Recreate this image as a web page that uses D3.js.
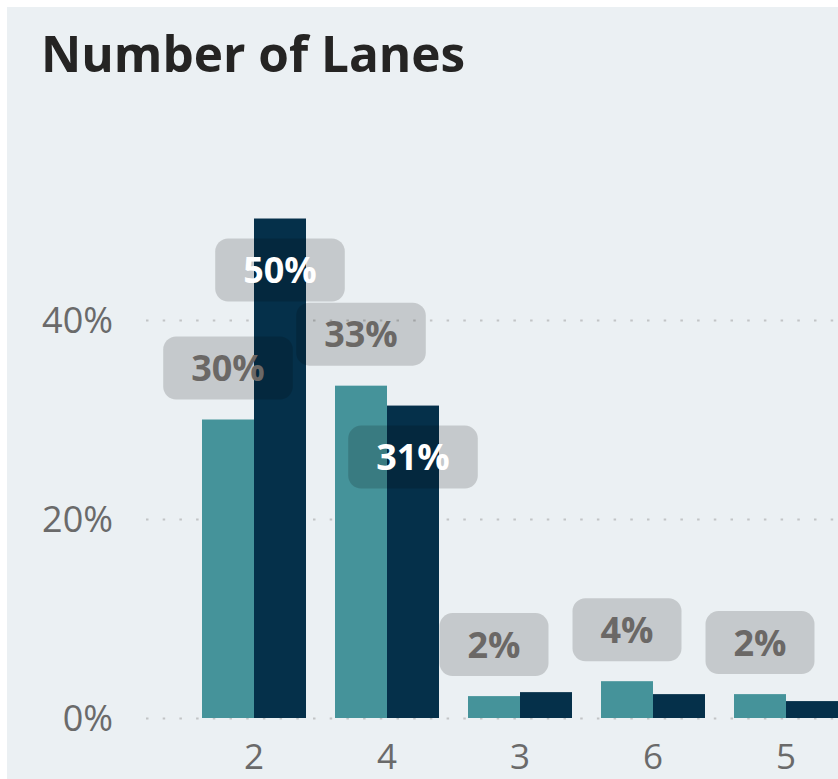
<!DOCTYPE html>
<html>
<head>
<meta charset="utf-8">
<script src="https://cdn.jsdelivr.net/npm/d3@7"></script>
<style>
  html, body { margin: 0; padding: 0; background: #ffffff; }
  svg { display: block; }
  text { font-family: "Open Sans", "Noto Sans", sans-serif; }
</style>
</head>
<body>
<svg id="chart" width="838" height="779"></svg>
<script>
// ---- data ----
const title = "Number of Lanes";
const categories = ["2", "4", "3", "6", "5"];
const seriesNames = ["Share A", "Share B"];
const seriesA = [0.30, 0.334, 0.022, 0.037, 0.024];
const seriesB = [0.502, 0.314, 0.026, 0.024, 0.017];
const yTicks = [0, 0.2, 0.4];
const seriesColors = ["#45939a", "#05304a"];

// ---- layout ----
const W = 838, H = 779;
const svg = d3.select("#chart");

svg.append("rect").attr("x", 7).attr("y", 7).attr("width", W - 7).attr("height", H - 7)
  .attr("fill", "#ebf0f3");

svg.append("text").attr("x", 41).attr("y", 72)
  .attr("font-size", 49.5).attr("font-weight", 700).attr("fill", "#252423")
  .text(title);

const y = d3.scaleLinear().domain([0, 0.4]).range([718, 320]);
const step = 133, padIn = 29 / 133;
const x = d3.scaleBand().domain(categories)
  .range([187.5, 187.5 + step * categories.length])
  .paddingInner(padIn).paddingOuter(padIn / 2);
const xs = d3.scaleBand().domain(seriesNames).range([0, x.bandwidth()]);

// gridlines + y labels
const yAxis = d3.axisLeft(y).tickValues(yTicks).tickFormat(d3.format(".0%"))
  .tickSize(-(W - 146)).tickPadding(33);
const gy = svg.append("g").attr("transform", "translate(146,0)").call(yAxis);
gy.select(".domain").remove();
gy.selectAll(".tick line").attr("stroke", "#c2c4c6").attr("stroke-width", 2.2)
  .attr("stroke-dasharray", "2.5,14.2");
gy.selectAll(".tick text").attr("font-size", 36).attr("fill", "#6a6a6a")
  .attr("font-family", "'Open Sans', sans-serif").attr("dy", "0.35em");

// x labels
const xAxis = d3.axisBottom(x).tickSize(0).tickPadding(0);
const gx = svg.append("g").attr("transform", "translate(0,769)").call(xAxis);
gx.select(".domain").remove();
gx.selectAll(".tick text").attr("font-size", 35).attr("fill", "#6a6a6a")
  .attr("font-family", "'Open Sans', sans-serif").attr("dy", 0).attr("y", 0);

// bars
const rows = categories.map((c, i) => ({ cat: c, vals: [seriesA[i], seriesB[i]] }));
const barG = svg.append("g");
rows.forEach(r => {
  r.vals.forEach((v, k) => {
    barG.append("rect")
      .attr("x", x(r.cat) + xs(seriesNames[k]))
      .attr("y", y(v))
      .attr("width", xs.bandwidth())
      .attr("height", y(0) - y(v))
      .attr("fill", seriesColors[k]);
  });
});

// labels
const boxH = 63, gap = 20, padX = 28;
const labelG = svg.append("g");
const fmt = d3.format(".0%");
rows.forEach(r => {
  r.vals.forEach((v, k) => {
    const cx = x(r.cat) + xs(seriesNames[k]) + xs.bandwidth() / 2;
    let top;
    if (k === 0) {
      top = y(v) - gap - boxH;
    } else {
      // inside end; hidden when the bar is too short to hold it
      if (y(0) - y(v) < boxH + gap * 2) return;
      top = y(v) + gap;
    }
    const g = labelG.append("g");
    const rect = g.append("rect").attr("fill", "rgba(0,0,0,0.16)").attr("rx", 13);
    const t = g.append("text").attr("x", cx).attr("y", top + boxH / 2 + 13)
      .attr("text-anchor", "middle").attr("font-size", 36).attr("font-weight", 700)
      .attr("fill", k === 0 ? "#6b6866" : "#ffffff").text(fmt(v));
    const tw = t.node().getComputedTextLength();
    rect.attr("x", cx - tw / 2 - padX).attr("y", top)
      .attr("width", tw + padX * 2).attr("height", boxH);
  });
});
</script>
</body>
</html>
